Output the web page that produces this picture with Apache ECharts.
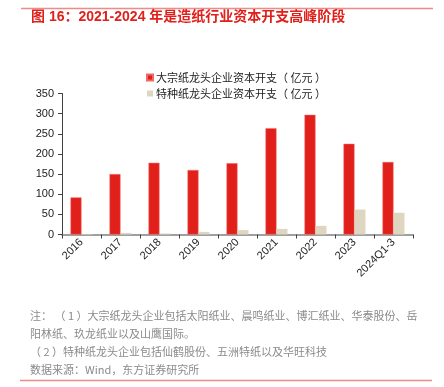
<!DOCTYPE html>
<html><head><meta charset="utf-8">
<script src="https://cdn.jsdelivr.net/npm/echarts@6/dist/echarts.min.js"></script>
<style>html,body{margin:0;padding:0;background:#fff}#c{width:444px;height:387px}</style>
</head><body><div id="c"></div>
<script>
const categories = ['2016','2017','2018','2019','2020','2021','2022','2023','2024Q1-3'];
const bulkCapex = [92,150,178,160,177,264,297,225,180];
const specialtyCapex = [1.5,4,2.5,6.5,11,14,21.5,62,54];
const seriesNames = ['大宗纸龙头企业资本开支（ 亿元 ）','特种纸龙头企业资本开支（ 亿元 ）'];
const yTicks = {min:0,max:350,interval:50};
const titleText = '图 16：2021-2024 年是造纸行业资本开支高峰阶段';
const notes = [
  '注： （ 1 ）大宗纸龙头企业包括太阳纸业、晨鸣纸业、博汇纸业、华泰股份、岳',
  '阳林纸、玖龙纸业以及山鹰国际。',
  '（ 2 ）特种纸龙头企业包括仙鹤股份、五洲特纸以及华旺科技',
  '数据来源：Wind，东方证券研究所'
];
const FF = '"Liberation Sans", Arial, "Noto Sans CJK SC", sans-serif';
const CJK = '"Noto Sans CJK SC", "Liberation Sans", sans-serif';
const chart = echarts.init(document.getElementById('c'), null, {renderer:'canvas'});
const graphics = [
  {type:'line', shape:{x1:21,y1:8.5,x2:433,y2:8.5}, style:{stroke:'#EE8A87',lineWidth:1.5}},
  {type:'text', left:31, top:10, style:{text:titleText, fill:'#E0201B', font:'bold 14px '+FF}},
  {type:'line', shape:{x1:20,y1:380.5,x2:432,y2:380.5}, style:{stroke:'#EE8A87',lineWidth:1.5}}
];
notes.forEach((t,i)=>{
  graphics.push({type:'text', left:30, top:310+i*18, style:{text:t, fill:'#8a8a8a', font:'11px '+CJK}});
});
chart.setOption({
  animation:false,
  textStyle:{fontFamily:FF},
  legend:{
    orient:'vertical', left:141, top:67, itemWidth:6, itemHeight:6, itemGap:5,
    icon:'rect',
    textStyle:{fontSize:11, color:'#222', fontFamily:CJK, padding:[0,0,0,-2]},
    data:seriesNames
  },
  grid:{left:62, right:31, top:93.5, bottom:152.5, containLabel:false},
  xAxis:{
    type:'category', data:categories,
    axisLine:{lineStyle:{color:'#808080', width:1.5}},
    axisTick:{show:true, length:4, lineStyle:{color:'#404040'}},
    axisLabel:{rotate:45, fontSize:11, color:'#222', margin:6, fontFamily:FF, interval:0}
  },
  yAxis:{
    type:'value', min:yTicks.min, max:yTicks.max, interval:yTicks.interval,
    splitLine:{show:false},
    axisLine:{show:true, lineStyle:{color:'#404040', width:1}},
    axisTick:{show:true, length:4, lineStyle:{color:'#404040'}},
    axisLabel:{fontSize:11, color:'#222', margin:8, fontFamily:FF}
  },
  series:[
    {name:seriesNames[0], type:'bar', data:bulkCapex, barWidth:11, barGap:'0%',
     itemStyle:{color:'#E2201B', borderColor:'#EF6A66', borderWidth:0.5}},
    {name:seriesNames[1], type:'bar', data:specialtyCapex, barWidth:11,
     itemStyle:{color:'#DFD6C1'}}
  ],
  graphic:graphics
});
</script></body></html>
